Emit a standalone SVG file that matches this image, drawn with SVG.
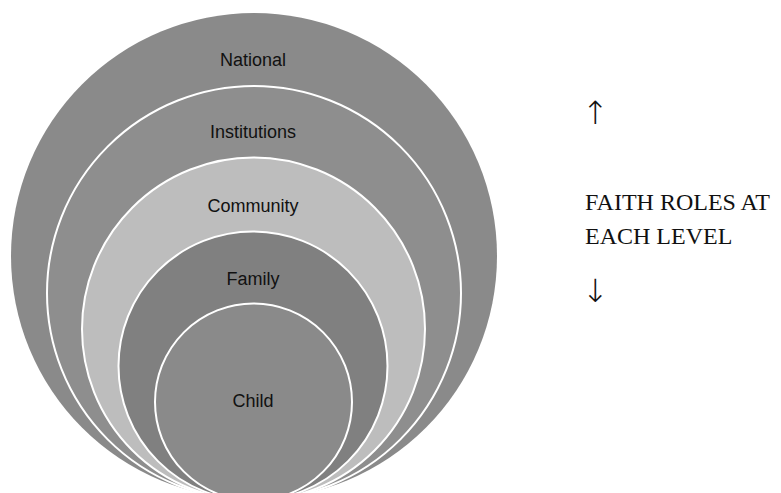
<svg xmlns="http://www.w3.org/2000/svg" width="781" height="493" viewBox="0 0 781 493">
<style>
.lbl{font-family:"Liberation Sans",Arial,sans-serif;font-size:18px;fill:#111;text-anchor:middle}
.ring{stroke:#fff;stroke-width:2}
.side{font-family:"Liberation Serif","Times New Roman",serif;font-size:24px;fill:#111}
.arr{font-family:"DejaVu Sans Light","DejaVu Serif","DejaVu Sans",sans-serif;font-weight:200;font-size:32px;fill:#111}
</style>
<rect width="781" height="493" fill="#fff"/>
<g id="national"><circle cx="254" cy="256" r="243" fill="#8a8a8a"/><text class="lbl" x="253" y="66">National</text></g>
<g id="institutions"><circle class="ring" cx="254" cy="293" r="207" fill="#8e8e8e"/><text class="lbl" x="253" y="138">Institutions</text></g>
<g id="community"><circle class="ring" cx="253.5" cy="329" r="171.5" fill="#bdbdbd"/><text class="lbl" x="253" y="212">Community</text></g>
<g id="family"><circle class="ring" cx="253" cy="366" r="134.5" fill="#808080"/><text class="lbl" x="253" y="285">Family</text></g>
<g id="child"><circle class="ring" cx="253.5" cy="402" r="98.5" fill="#8a8a8a"/><text class="lbl" x="253" y="407">Child</text></g>
<g id="side-note">
<text class="arr" x="582" y="124">↑</text>
<text class="side" x="585" y="210">FAITH ROLES AT</text>
<text class="side" x="585" y="244">EACH LEVEL</text>
<text class="arr" x="582" y="302">↓</text>
</g>
</svg>
